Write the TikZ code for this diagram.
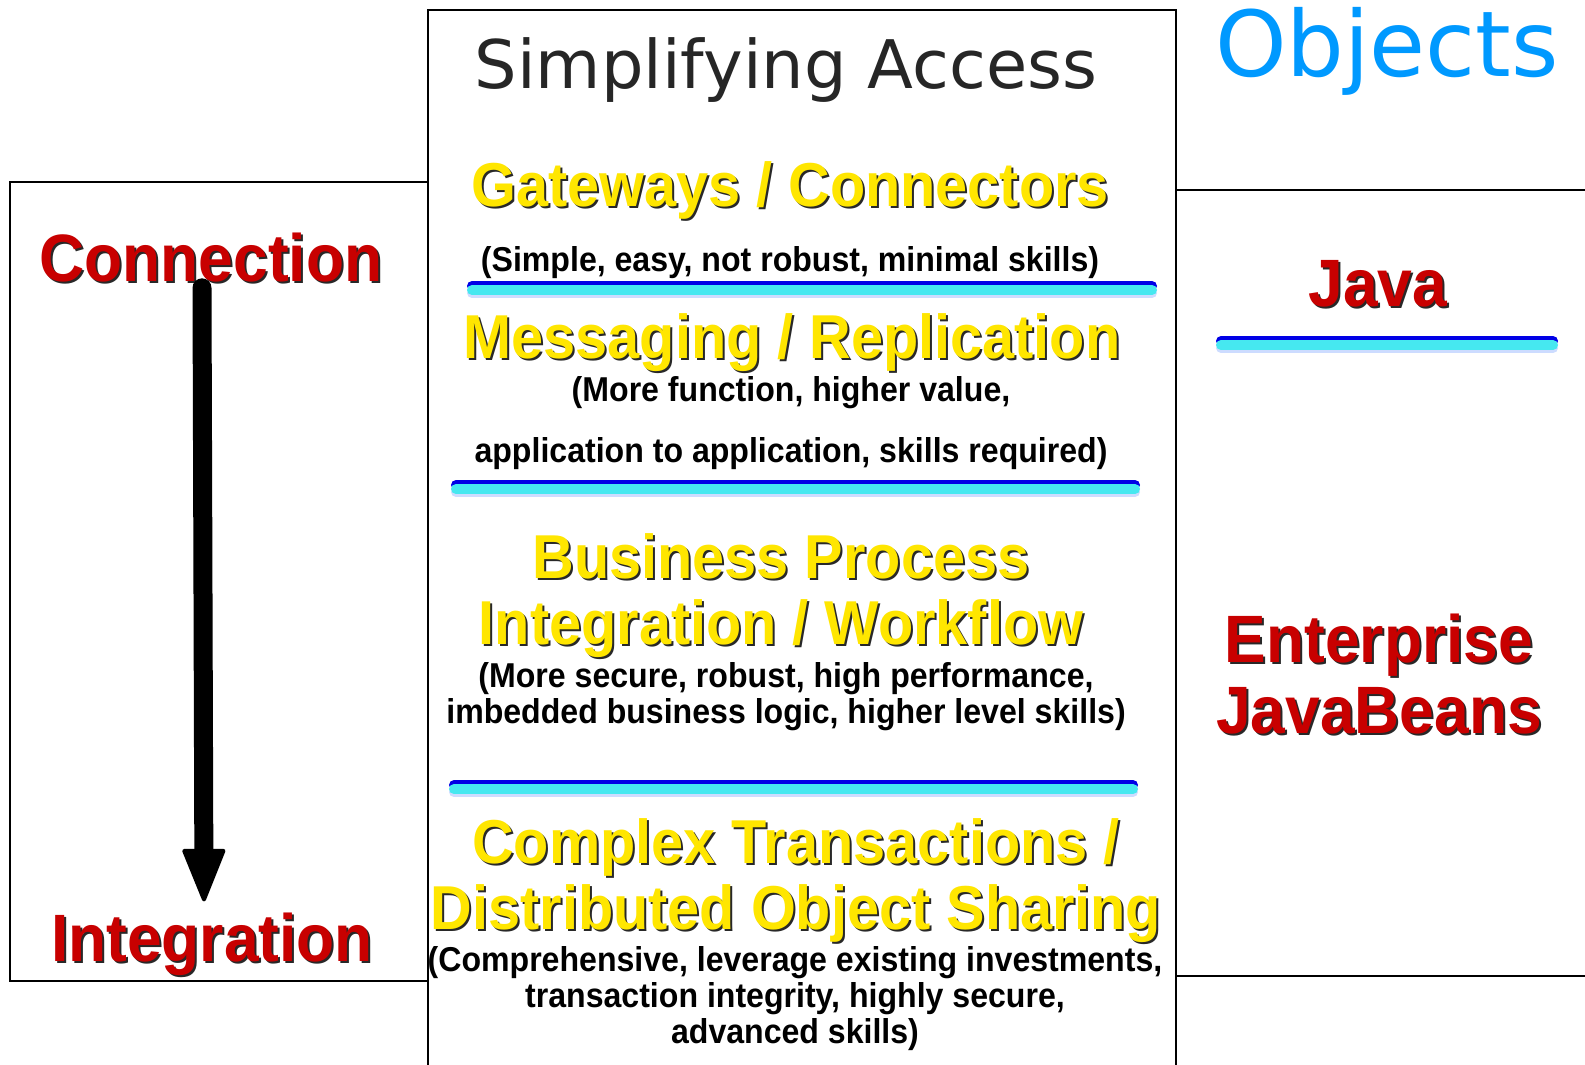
\documentclass[tikz,border=0pt]{standalone}
\usepackage{fontspec}
\usetikzlibrary{arrows.meta}
\setmainfont{Liberation Sans}
\newfontfamily\hb{Liberation Sans}[FakeStretch=0.93]
\newfontfamily\dv{DejaVu Sans}
\definecolor{yel}{RGB}{255,230,0}
\definecolor{redt}{RGB}{200,0,0}
\definecolor{objblue}{RGB}{0,153,255}
\definecolor{sepblue}{RGB}{0,0,230}
\definecolor{sepcyan}{RGB}{70,232,240}
\definecolor{sepshade}{RGB}{205,220,255}
\definecolor{shadowcol}{RGB}{40,40,40}
\tikzset{
  frame/.style={draw=black, line width=2bp},
  ytitle/.style={font=\hb\bfseries\fontsize{62bp}{66bp}\selectfont, text=yel, align=center, inner sep=0pt},
  rtitle/.style={font=\hb\bfseries\fontsize{67bp}{71bp}\selectfont, text=redt, align=center, inner sep=0pt},
  btext/.style={font=\hb\bfseries\fontsize{34.5bp}{36bp}\selectfont, text=black, align=center, inner sep=0pt},
  stitle/.style={font=\dv\fontsize{67bp}{70bp}\selectfont, text=black!85, inner sep=0pt},
  otitle/.style={font=\dv\fontsize{91bp}{96bp}\selectfont, text=objblue, inner sep=0pt},
  bigarrow/.style={line width=19bp, line cap=round, -{Triangle[length=56bp, width=44bp, line width=4bp, round]}},
}
\newcommand\shtext[4]{%
  \node[#3, text=shadowcol, xshift=2bp, yshift=-2bp] (#1s) at #2 {#4};
  \node[#3] (#1) at #2 {#4};}
\newcommand\sepbar[3]{%
  \draw[line width=10bp, line cap=round, sepshade] (#1+5,#3+12) -- (#2-5,#3+12);
  \draw[line width=10bp, line cap=round, sepblue] (#1+5,#3+5) -- (#2-5,#3+5);
  \draw[line width=10bp, line cap=round, sepcyan] (#1+5,#3+9) -- (#2-5,#3+9);}
\begin{document}
\begin{tikzpicture}[x=1bp,y=-1bp]
\useasboundingbox (0,0) rectangle (1585,1064);
\fill[white] (0,0) rectangle (1585,1064);
% frames
\draw[frame] (427.5,1075) -- (427.5,9.5) -- (1175.5,9.5) -- (1175.5,1075);
\draw[frame] (427.5,182) -- (9.5,182) -- (9.5,980.5) -- (427.5,980.5);
\draw[frame] (1175.5,190) -- (1595,190);
\draw[frame] (1175.5,975.5) -- (1595,975.5);
% separators
\sepbar{467}{1157}{281}
\sepbar{451}{1140}{480}
\sepbar{449}{1138}{780}
\sepbar{1216}{1558}{336}
% headings
\node[stitle] (simp) at (786,70) {Simplifying Access};
\node[otitle] (obj) at (1387,51) {Objects};
% yellow titles
\shtext{gw}{(790,190)}{ytitle}{Gateways / Connectors}
\shtext{ms}{(792,343)}{ytitle}{Messaging / Replication}
\shtext{bp}{(781,596)}{ytitle}{Business Process\\Integration / Workflow}
\shtext{ct}{(796,881)}{ytitle}{Complex Transactions /\\Distributed Object Sharing}
% black descriptions
\node[btext] (s1) at (790,263) {(Simple, easy, not robust, minimal skills)};
\node[btext] (s2) at (791,423) {(More function, higher value,\\[25bp]application to application, skills required)};
\node[btext] (s3) at (786,697) {(More secure, robust, high performance,\\imbedded business logic, higher level skills)};
\node[btext] (s4) at (795,999) {(Comprehensive, leverage existing investments,\\transaction integrity, highly secure,\\advanced skills)};
% red titles
\shtext{conn}{(211,258)}{rtitle}{Connection}
\shtext{integ}{(212,944)}{rtitle}{Integration}
\shtext{java}{(1378,284)}{rtitle}{Java}
\shtext{ejb}{(1379,674)}{rtitle}{Enterprise\\JavaBeans}
% arrow
\draw[bigarrow] ([xshift=-9bp,yshift=-5bp]conn.south) -- ([xshift=-8bp,yshift=11bp]integ.north);
\end{tikzpicture}
\end{document}
